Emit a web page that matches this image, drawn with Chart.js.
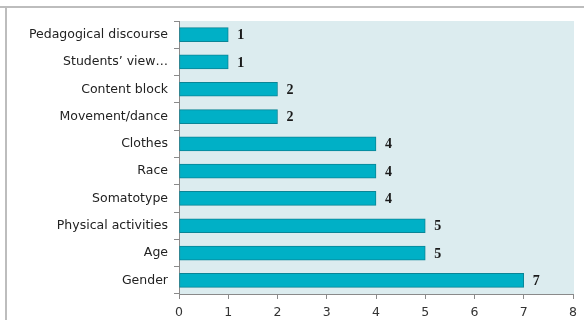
<!DOCTYPE html>
<html>
<head>
<meta charset="utf-8">
<script src="https://cdn.jsdelivr.net/npm/chart.js@4/dist/chart.umd.min.js"></script>
<style>
html,body{margin:0;padding:0;background:#fff;}
#c{display:block;}
</style>
</head>
<body>
<canvas id="c" width="584" height="320"></canvas>
<script>
const categories = ["Pedagogical discourse","Students\u2019 view\u2026","Content block","Movement/dance","Clothes","Race","Somatotype","Physical activities","Age","Gender"];
const counts = [1,1,2,2,4,4,4,5,5,7];
const xTicks = [0,1,2,3,4,5,6,7,8];

const framePlugin = {
  id: 'frame',
  beforeDraw(chart) {
    const ctx = chart.ctx;
    const a = chart.chartArea;
    ctx.save();
    ctx.fillStyle = '#ffffff';
    ctx.fillRect(0,0,chart.width,chart.height);
    ctx.strokeStyle = '#bdbdbd';
    ctx.lineWidth = 2;
    ctx.beginPath();
    ctx.moveTo(0,7); ctx.lineTo(chart.width,7);
    ctx.moveTo(6,7); ctx.lineTo(6,chart.height);
    ctx.stroke();
    ctx.fillStyle = '#dcecef';
    ctx.fillRect(a.left, a.top, a.right - a.left + 1, a.bottom - a.top);
    ctx.restore();
  },
  afterDatasetsDraw(chart) {
    const ctx = chart.ctx;
    const meta = chart.getDatasetMeta(0);
    ctx.save();
    ctx.font = 'bold 14px "Liberation Serif", "DejaVu Serif", serif';
    ctx.fillStyle = '#1a1a1a';
    ctx.textAlign = 'left';
    ctx.textBaseline = 'middle';
    meta.data.forEach((bar, i) => {
      ctx.fillText(String(counts[i]), bar.x + 9, bar.y + 1);
    });
    ctx.restore();
  }
};

new Chart(document.getElementById('c'), {
  type: 'bar',
  data: {
    labels: categories,
    datasets: [{
      data: counts,
      backgroundColor: '#00b0c6',
      borderColor: '#0a8596',
      borderWidth: 1,
      borderSkipped: false,
      barThickness: 14
    }]
  },
  options: {
    indexAxis: 'y',
    responsive: false,
    animation: false,
    devicePixelRatio: 1,
    layout: { padding: { top: 21, right: 11, left: 0, bottom: 0 } },
    plugins: { legend: { display: false }, tooltip: { enabled: false } },
    scales: {
      x: {
        min: 0, max: 8,
        afterBuildTicks(scale) { scale.ticks = xTicks.map(v => ({ value: v })); },
        afterFit(scale) { scale.height = 26; },
        border: { display: true, color: '#8a8a8a', width: 1 },
        grid: { drawOnChartArea: false, drawTicks: true, tickLength: 5, color: '#8a8a8a' },
        ticks: { padding: 6, color: '#333', font: { family: '"DejaVu Sans", sans-serif', size: 12.5 } }
      },
      y: {
        afterFit(scale) { scale.width = 179; },
        border: { display: true, color: '#8a8a8a', width: 1 },
        grid: { offset: true, drawOnChartArea: false, drawTicks: true, tickLength: 5, color: '#8a8a8a' },
        ticks: { padding: 6, color: '#222', font: { family: '"DejaVu Sans", sans-serif', size: 12.5 } }
      }
    }
  },
  plugins: [framePlugin]
});
</script>
</body>
</html>
